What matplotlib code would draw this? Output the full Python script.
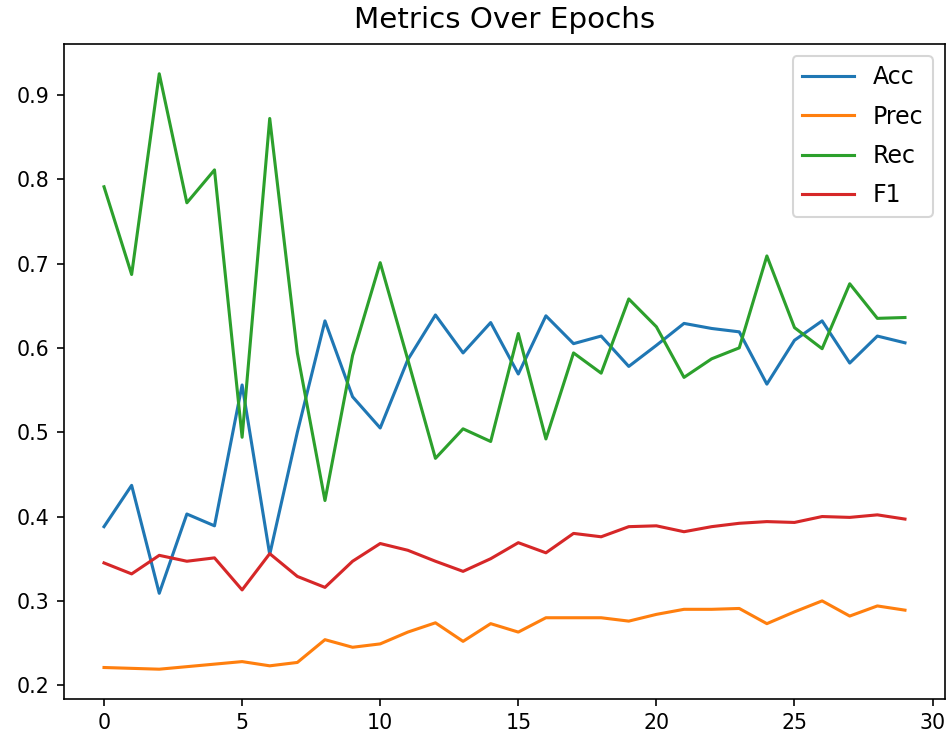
import matplotlib
matplotlib.use('Agg')
import matplotlib.pyplot as plt

# -------- Metric values per epoch --------
epochs = list(range(30))
acc = [0.388, 0.437, 0.309, 0.403, 0.389, 0.556, 0.355, 0.500, 0.632, 0.542,
       0.505, 0.586, 0.639, 0.594, 0.630, 0.569, 0.638, 0.605, 0.614, 0.578,
       0.603, 0.629, 0.623, 0.619, 0.557, 0.609, 0.632, 0.582, 0.614, 0.606]
prec = [0.221, 0.220, 0.219, 0.222, 0.225, 0.228, 0.223, 0.227, 0.254, 0.245,
        0.249, 0.263, 0.274, 0.252, 0.273, 0.263, 0.280, 0.280, 0.280, 0.276,
        0.284, 0.290, 0.290, 0.291, 0.273, 0.287, 0.300, 0.282, 0.294, 0.289]
rec = [0.791, 0.687, 0.925, 0.772, 0.811, 0.494, 0.872, 0.594, 0.419, 0.591,
       0.701, 0.586, 0.469, 0.504, 0.489, 0.617, 0.492, 0.594, 0.570, 0.658,
       0.625, 0.565, 0.587, 0.600, 0.709, 0.624, 0.599, 0.676, 0.635, 0.636]
f1 = [0.345, 0.332, 0.354, 0.347, 0.351, 0.313, 0.356, 0.329, 0.316, 0.347,
      0.368, 0.360, 0.347, 0.335, 0.350, 0.369, 0.357, 0.380, 0.376, 0.388,
      0.389, 0.382, 0.388, 0.392, 0.394, 0.393, 0.400, 0.399, 0.402, 0.397]

# ------ Figure layout --------
fig = plt.figure(figsize=(949 / 148, 742 / 148), dpi=148)
ax = fig.add_axes([0.0674, 0.058, 0.9284, 0.8827])

ax.plot(epochs, acc, label='Acc')
ax.plot(epochs, prec, label='Prec')
ax.plot(epochs, rec, label='Rec')
ax.plot(epochs, f1, label='F1')

ax.set_title('Metrics Over Epochs', fontsize=14.3, pad=8)
ax.legend(fontsize=11.5, labelspacing=0.65, handlelength=2.2)

fig.savefig('out.png', dpi=148)
